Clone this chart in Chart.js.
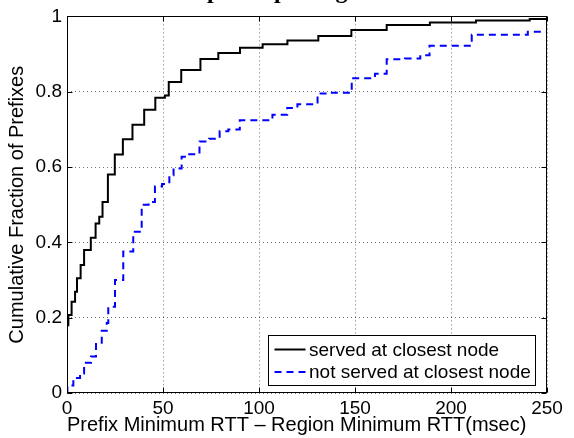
<!DOCTYPE html>
<html><head><meta charset="utf-8">
<script src="https://cdn.jsdelivr.net/npm/chart.js@4/dist/chart.umd.min.js"></script>
<style>html,body{margin:0;padding:0;background:#fff;}canvas{display:block}</style>
</head><body>
<canvas id="c" width="574" height="438"></canvas>
<script>
// ---- data ----
const seriesNames = ['served at closest node', 'not served at closest node'];
const servedX = [0, 0.7, 2.4, 4.2, 5.2, 7.1, 8.9, 12.4, 14.9, 16.8, 18.5, 21.3, 24.9, 29.1, 34.1, 40.2, 46.0, 51.0, 53.0, 59.5, 69.5, 78.8, 90.1, 101.9, 114.8, 130.9, 148.1, 166.5, 189.0, 213.0, 241.0, 250];
const servedY = [0.18, 0.207, 0.242, 0.269, 0.305, 0.340, 0.380, 0.412, 0.450, 0.468, 0.507, 0.580, 0.633, 0.674, 0.712, 0.752, 0.784, 0.790, 0.826, 0.858, 0.887, 0.903, 0.917, 0.926, 0.936, 0.948, 0.964, 0.977, 0.984, 0.989, 0.993, 0.993];
const notServedX = [0, 0.2, 3.3, 6.8, 8.9, 12.5, 15.1, 18.1, 20.7, 21.5, 25.0, 29.3, 34.5, 38.9, 42.5, 45.8, 49.5, 53.3, 55.5, 59.7, 63.0, 69.0, 74.0, 79.5, 84.0, 90.0, 107.0, 114.7, 120.0, 130.5, 136.0, 147.8, 148.3, 160.4, 166.5, 176.0, 184.0, 188.8, 210.8, 240.0, 250];
const notServedY = [0, 0.02, 0.04, 0.052, 0.08, 0.097, 0.13, 0.165, 0.186, 0.229, 0.30, 0.376, 0.428, 0.50, 0.507, 0.548, 0.555, 0.578, 0.596, 0.627, 0.634, 0.668, 0.675, 0.695, 0.70, 0.724, 0.739, 0.757, 0.767, 0.795, 0.797, 0.804, 0.836, 0.848, 0.886, 0.888, 0.897, 0.922, 0.951, 0.959, 0.961];
const xTicks = [0, 50, 100, 150, 200, 250];
const yTicks = [0, 0.2, 0.4, 0.6, 0.8, 1];
const yTickLabels = ['0', '0.2', '0.4', '0.6', '0.8', '1'];
const xTitle = 'Prefix Minimum RTT \u2013 Region Minimum RTT(msec)';
const yTitle = 'Cumulative Fraction of Prefixes';
const chartTitle = 'Minimum RTT of prefix per region';

const toPts = (xs, ys) => xs.map((v, i) => ({x: v, y: ys[i]}));

Chart.defaults.font.family = '"Liberation Sans", Arial, Helvetica, sans-serif';
Chart.defaults.font.size = 19;
Chart.defaults.color = '#000';

const decor = {
  id: 'decor',
  afterDatasetsDraw(chart) {
    const {ctx, chartArea: a, scales: {x, y}} = chart;
    ctx.save();
    ctx.strokeStyle = '#000';
    ctx.lineWidth = 1;
    ctx.setLineDash([]);
    const L = Math.round(a.left) + 0.5, R = Math.round(a.right) - 0.5;
    const T = Math.round(a.top) + 0.5, B = Math.round(a.bottom) - 0.5;
    ctx.strokeRect(L, T, R - L, B - T);
    ctx.beginPath();
    xTicks.forEach(v => {
      const px = Math.round(x.getPixelForValue(v)) + 0.5;
      ctx.moveTo(px, B); ctx.lineTo(px, B - 5);
      ctx.moveTo(px, T); ctx.lineTo(px, T + 5);
    });
    yTicks.forEach(v => {
      const py = Math.round(y.getPixelForValue(v)) + 0.5;
      ctx.moveTo(L, py); ctx.lineTo(L + 5, py);
      ctx.moveTo(R, py); ctx.lineTo(R - 5, py);
    });
    ctx.stroke();

    // legend box (inside plot, lower right)
    ctx.font = '19px "Liberation Sans", Arial, sans-serif';
    const ds = chart.data.datasets;
    const tw = Math.max(...ds.map(d => ctx.measureText(d.label).width));
    const w = Math.round(41 + tw + 4), h = 50;
    const bx = Math.round(a.right - 12 - w) + 0.5, by = Math.round(a.bottom - 8 - h) + 0.5;
    ctx.fillStyle = '#fff';
    ctx.fillRect(bx, by, w, h);
    ctx.strokeStyle = '#000';
    ctx.lineWidth = 1;
    ctx.strokeRect(bx, by, w, h);
    ds.forEach((d, i) => {
      const cy = by + 14 + i * 22.5;
      ctx.beginPath();
      ctx.strokeStyle = d.borderColor;
      ctx.lineWidth = d.borderWidth;
      ctx.setLineDash(d.borderDash || []);
      ctx.moveTo(bx + 6, cy); ctx.lineTo(bx + 37, cy);
      ctx.stroke();
      ctx.setLineDash([]);
      ctx.fillStyle = '#000';
      ctx.textBaseline = 'middle';
      ctx.textAlign = 'left';
      ctx.fillText(d.label, bx + 40.5, cy + 1);
    });
    ctx.restore();
  },
  afterDraw(chart) {
    const ctx = chart.ctx;
    ctx.save();
    ctx.font = 'bold 24px "Liberation Serif", "Times New Roman", serif';
    ctx.fillStyle = '#000';
    ctx.textBaseline = 'alphabetic';
    ctx.textAlign = 'left';
    const pre = ctx.measureText('Minimum RTT of ').width;
    ctx.fillText(chartTitle, 213 - pre - 6, -2.5);
    ctx.restore();
  }
};

new Chart(document.getElementById('c'), {
  type: 'line',
  data: {
    datasets: [
      {label: seriesNames[0], data: toPts(servedX, servedY), borderColor: '#000', borderWidth: 2,
       stepped: 'before', pointRadius: 0, fill: false, borderJoinStyle: 'miter', borderCapStyle: 'butt'},
      {label: seriesNames[1], data: toPts(notServedX, notServedY), borderColor: '#0000ff', borderWidth: 2,
       borderDash: [7, 5], stepped: 'before', pointRadius: 0, fill: false, borderJoinStyle: 'miter', borderCapStyle: 'butt'}
    ]
  },
  options: {
    responsive: false,
    animation: false,
    devicePixelRatio: 1,
    layout: {padding: {left: 0, top: 16, right: 27, bottom: 0}},
    plugins: {legend: {display: false}, title: {display: false}, tooltip: {enabled: false}},
    scales: {
      x: {
        type: 'linear', min: 0, max: 250,
        afterBuildTicks: s => { s.ticks = xTicks.map(v => ({value: v})); },
        afterFit: s => { s.height = 45; },
        ticks: {padding: 4, maxRotation: 0, autoSkip: false, callback: v => String(v)},
        grid: {color: 'rgba(0,0,0,0.55)', lineWidth: 1, drawTicks: false},
        border: {display: false, dash: [1, 3]},
        title: {display: true, text: xTitle, align: 'start', font: {size: 20}, padding: {top: 0, bottom: 1}}
      },
      y: {
        type: 'linear', min: 0, max: 1,
        afterBuildTicks: s => { s.ticks = yTicks.map(v => ({value: v})); },
        afterFit: s => { s.width = 67; },
        ticks: {padding: 5, autoSkip: false, callback: v => yTickLabels[yTicks.findIndex(t => Math.abs(t - v) < 1e-9)]},
        grid: {color: 'rgba(0,0,0,0.55)', lineWidth: 1, drawTicks: false},
        border: {display: false, dash: [1, 3]},
        title: {display: true, text: yTitle, font: {size: 20}, padding: {top: 5, bottom: 0}}
      }
    }
  },
  plugins: [decor]
});
</script>
</body></html>
